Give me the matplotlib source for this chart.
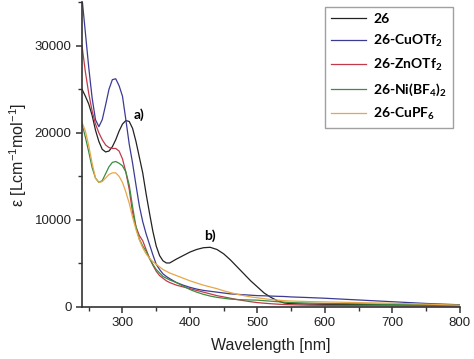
import numpy as np
import matplotlib
matplotlib.use("Agg")
import matplotlib.pyplot as plt
from matplotlib.ticker import MultipleLocator

wavelength = [240, 245, 250, 255, 260, 265, 270, 275, 280, 285, 290, 295, 300, 305, 310,
              315, 320, 325, 330, 335, 340, 345, 350, 355, 360, 365, 370, 380, 390, 400,
              410, 420, 430, 440, 450, 460, 470, 480, 490, 500, 510, 520, 530, 540, 550,
              575, 600, 650, 700, 750, 800]

eps_26 = [25000, 24200, 23300, 22000, 20300, 19000, 18100, 17800, 17900, 18400, 19200, 20200, 21000, 21400, 21300,
          20500, 19000, 17200, 15400, 13000, 10800, 8700, 7000, 5900, 5300, 5050, 5050, 5500, 5900, 6300,
          6600, 6800, 6850, 6600, 6100, 5400, 4600, 3800, 3000, 2300, 1600, 1100, 700, 450, 380,
          330, 300, 280, 250, 220, 200]

eps_cu_otf = [35500, 31500, 27500, 24000, 21500, 20700, 21500, 23200, 25000, 26100, 26200, 25400, 24200, 21500, 18700,
              16500, 14000, 11600, 9800, 8400, 7200, 6000, 4900, 4300, 3800, 3500, 3250, 2800, 2500, 2250,
              2050, 1900, 1800, 1700, 1600, 1500, 1450, 1400, 1350, 1300, 1280, 1250, 1220, 1200, 1150,
              1080, 1000, 800, 600, 400, 250]

eps_zn_otf = [30000, 27000, 24500, 22500, 21000, 20000, 19200, 18600, 18300, 18200, 18200, 17900, 17000, 15500, 13500,
              10800, 9200, 8200, 7600, 6600, 5600, 4800, 4100, 3600, 3300, 3000, 2800, 2500, 2300, 2100,
              1900, 1700, 1500, 1300, 1150, 1000, 850, 720, 600, 500, 430, 370, 320, 280, 250,
              200, 180, 150, 130, 120, 100]

eps_ni_bf4 = [21000, 19500, 17800, 16000, 14800, 14300, 14500, 15300, 16100, 16600, 16700, 16500, 16200, 15500, 14000,
              11500, 9200, 7800, 7000, 6400, 5600, 4900, 4300, 3900, 3500, 3300, 3100, 2800, 2400, 2000,
              1700, 1450, 1250, 1100, 1000, 900, 850, 820, 800, 780, 720, 660, 600, 550, 500,
              450, 400, 350, 300, 250, 200]

eps_cu_pf6 = [21200, 20200, 18500, 16500, 14800, 14300, 14400, 14800, 15200, 15400, 15400, 15000, 14300, 13200, 11900,
              10300, 8900, 7700, 6800, 6100, 5600, 5200, 4900, 4600, 4300, 4100, 3900, 3600, 3300, 3000,
              2750, 2500, 2300, 2100, 1850, 1650, 1450, 1300, 1150, 1050, 950, 850, 780, 720, 680,
              620, 580, 500, 420, 320, 200]

labels = ["26", r"26-CuOTf$_{\mathbf{2}}$", r"26-ZnOTf$_{\mathbf{2}}$",
          r"26-Ni(BF$_{\mathbf{4}}$)$_{\mathbf{2}}$", r"26-CuPF$_{\mathbf{6}}$"]
colors = ["#222222", "#3b3b94", "#c23a4a", "#3c8c42", "#e8a648"]
series = [eps_26, eps_cu_otf, eps_zn_otf, eps_ni_bf4, eps_cu_pf6]

plt.rcParams['font.family'] = ['Liberation Sans', 'DejaVu Sans']
plt.rcParams['mathtext.fontset'] = 'custom'
plt.rcParams['mathtext.rm'] = 'Liberation Sans'
plt.rcParams['mathtext.bf'] = 'Lato:bold'

fig = plt.figure(figsize=(4.74, 3.59), dpi=100)
ax = fig.add_axes([0.173, 0.145, 0.797, 0.849])

for y, c, lab in zip(series, colors, labels):
    ax.plot(wavelength, y, color=c, lw=0.9, label=lab)

ax.set_xlim(240, 800)
ax.set_ylim(0, 35000)
ax.xaxis.set_minor_locator(MultipleLocator(50))
ax.yaxis.set_major_locator(MultipleLocator(10000))
ax.yaxis.set_minor_locator(MultipleLocator(5000))
ax.set_xticks([300, 400, 500, 600, 700, 800])

for s in ['top', 'right']:
    ax.spines[s].set_visible(False)
for s in ['left', 'bottom']:
    ax.spines[s].set_linewidth(1.2)
    ax.spines[s].set_color('#333333')

ax.tick_params(which='major', direction='out', length=4, width=1.1, labelsize=9.5, colors='#333333', labelcolor='#222222')
ax.tick_params(which='minor', direction='out', length=3, width=1.0, colors='#333333')

ax.set_xlabel("Wavelength [nm]", fontsize=11.5, color='#222222', labelpad=6)
ax.set_ylabel(r"ε [Lcm$^{\mathregular{-1}}$mol$^{\mathregular{-1}}$]", fontsize=11.5, color='#222222', labelpad=4)

bold_font = ['Lato', 'DejaVu Sans']
ax.text(324, 22100, "a)", fontsize=10, fontweight='bold', family=bold_font, ha='center', va='center')
ax.text(430, 8200, "b)", fontsize=10, fontweight='bold', family=bold_font, ha='center', va='center')

leg = ax.legend(loc='upper right', bbox_to_anchor=(453/474, 1 - 7/359), bbox_transform=fig.transFigure,
                frameon=True, fancybox=False, handlelength=2.5, handletextpad=0.5,
                labelspacing=0.55, borderpad=0.45, borderaxespad=0,
                prop={'family': bold_font, 'weight': 'bold', 'size': 10})
leg.get_frame().set_edgecolor('#888888')
leg.get_frame().set_linewidth(1.0)

fig.savefig("out.png", dpi=100)
